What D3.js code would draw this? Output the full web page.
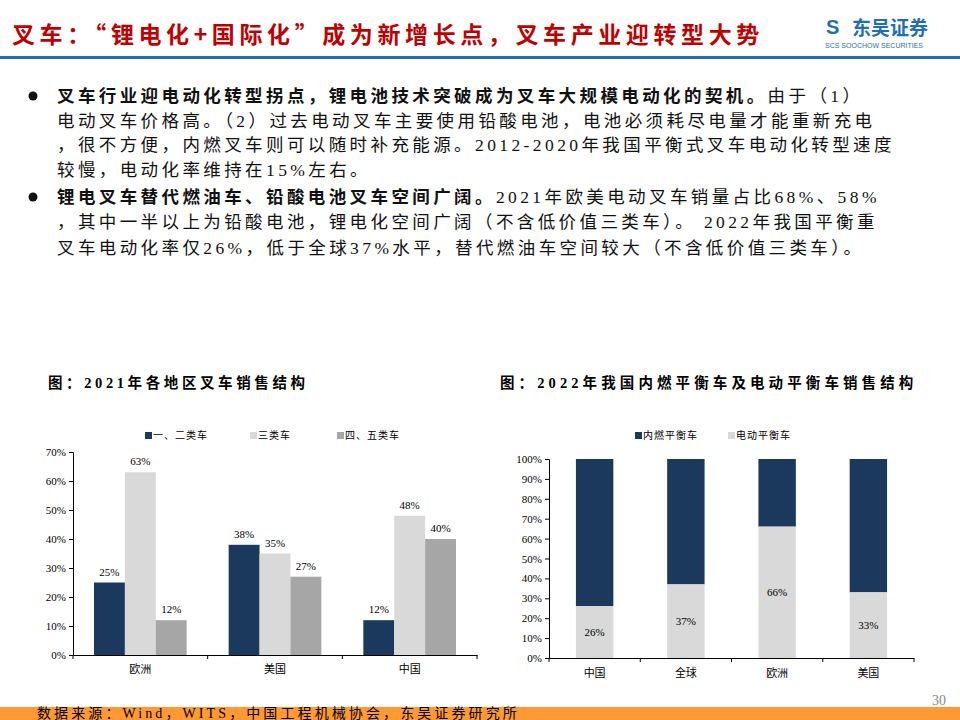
<!DOCTYPE html>
<html><head><meta charset="utf-8">
<script src="https://cdn.jsdelivr.net/npm/d3@7"></script>
<style>body{margin:0;background:#fff}text{font-family:"Liberation Serif","Noto Sans CJK SC",serif}</style>
</head><body>
<svg id="view" width="960" height="720"></svg>
<script>
const regions1 = ["欧洲", "美国", "中国"];
const series1 = ["一、二类车", "三类车", "四、五类车"];
const values1 = [[25, 63, 12], [38, 35, 27], [12, 48, 40]];
const ticks1 = [0, 10, 20, 30, 40, 50, 60, 70];

const regions2 = ["中国", "全球", "欧洲", "美国"];
const series2 = ["内燃平衡车", "电动平衡车"];
const electric2 = [26, 37, 66, 33];
const ticks2 = [0, 10, 20, 30, 40, 50, 60, 70, 80, 90, 100];

const navy = "#1b385d", light = "#d9d9d9", mid = "#a6a6a6";
const svg = d3.select("#view");
const cjk = '"Noto Sans CJK SC",sans-serif';

// HEADER
svg.append("text").attr("x", 12).attr("y", 43).attr("fill", "#c00000")
    .attr("font-size", 23).attr("font-weight", "bold").attr("letter-spacing", 4.6).style("font-family", cjk)
    .text("叉车：“锂电化+国际化”成为新增长点，叉车产业迎转型大势");
svg.append("rect").attr("x", 0).attr("y", 56).attr("width", 960).attr("height", 3).attr("fill", "#1f6fb8");
svg.append("text").attr("x", 852).attr("y", 35).attr("fill", "#1f6fb8").attr("font-size", 19)
    .attr("font-weight", "bold").style("font-family", cjk).text("东吴证券");
svg.append("text").attr("x", 826).attr("y", 34).attr("fill", "#1f6fb8").attr("font-size", 20)
    .attr("font-weight", "bold").style("font-family", "sans-serif").text("S");
svg.append("text").attr("x", 825).attr("y", 48).attr("fill", "#1f6fb8").attr("font-size", 7)
    .style("font-family", "sans-serif").text("SCS   SOOCHOW SECURITIES");

// BULLETS
const lines = [
    [["叉车行业迎电动化转型拐点，锂电池技术突破成为叉车大规模电动化的契机。", true], ["由于（1）", false]],
    [["电动叉车价格高。（2）过去电动叉车主要使用铅酸电池，电池必须耗尽电量才能重新充电", false]],
    [["，很不方便，内燃叉车则可以随时补充能源。2012-2020年我国平衡式叉车电动化转型速度", false]],
    [["较慢，电动化率维持在15%左右。", false]],
    [["锂电叉车替代燃油车、铅酸电池叉车空间广阔。", true], ["2021年欧美电动叉车销量占比68%、58%", false]],
    [["，其中一半以上为铅酸电池，锂电化空间广阔（不含低价值三类车）。 2022年我国平衡重", false]],
    [["叉车电动化率仅26%，低于全球37%水平，替代燃油车空间较大（不含低价值三类车）。", false]]
];
const lineY = [102, 127, 151, 176, 203, 228, 254];
lines.forEach((ln, i) => {
    const t = svg.append("text").attr("x", 57).attr("y", lineY[i]).attr("font-size", 17.5)
        .attr("letter-spacing", 3.4).attr("fill", "#111");
    ln.forEach(s => t.append("tspan").attr("font-weight", s[1] ? "bold" : "normal")
        .style("font-family", s[1] ? cjk : null).text(s[0]));
});
[96, 197].forEach(y => svg.append("circle").attr("cx", 33).attr("cy", y).attr("r", 4.5).attr("fill", "#111"));

// CHART 1
svg.append("text").attr("x", 48).attr("y", 388).attr("font-size", 14.5).attr("font-weight", "bold")
    .attr("letter-spacing", 3.6).text("图：2021年各地区叉车销售结构");
const x1 = d3.scaleBand().domain(regions1).range([73, 477]);
const xs1 = d3.scaleBand().domain(series1).range([21, x1.bandwidth() - 21]).padding(0);
const y1 = d3.scaleLinear().domain([0, 70]).range([655, 452]);
const col1 = d3.scaleOrdinal().domain(series1).range([navy, light, mid]);
const g1 = svg.append("g");
regions1.forEach((r, i) => {
    series1.forEach((s, j) => {
        const v = values1[i][j];
        g1.append("rect").attr("x", x1(r) + xs1(s)).attr("width", xs1.bandwidth())
            .attr("y", y1(v)).attr("height", y1(0) - y1(v)).attr("fill", col1(s));
        g1.append("text").attr("x", x1(r) + xs1(s) + xs1.bandwidth() / 2).attr("y", y1(v) - 7)
            .attr("text-anchor", "middle").attr("font-size", 11).text(v + "%");
    });
});
svg.append("g").attr("transform", "translate(73,0)")
    .call(d3.axisLeft(y1).tickValues(ticks1).tickFormat(d => d + "%").tickSize(4));
svg.append("g").attr("transform", "translate(0,655)")
    .call(d3.axisBottom(x1).tickSize(0).tickPadding(10));
svg.append("g").selectAll("line").data(d3.range(4)).join("line")
    .attr("x1", d => 73 + d * x1.step()).attr("x2", d => 73 + d * x1.step())
    .attr("y1", 655).attr("y2", 659).attr("stroke", "#000");
series1.forEach((s, j) => {
    const lx = [145, 250, 337][j];
    svg.append("rect").attr("x", lx).attr("y", 432).attr("width", 7).attr("height", 7).attr("fill", col1(s));
    svg.append("text").attr("x", lx + 8).attr("y", 439).attr("font-size", 10).attr("letter-spacing", 1)
        .style("font-family", cjk).text(s);
});

// CHART 2
svg.append("text").attr("x", 500).attr("y", 388).attr("font-size", 14.5).attr("font-weight", "bold")
    .attr("letter-spacing", 4.1).text("图：2022年我国内燃平衡车及电动平衡车销售结构");
const x2 = d3.scaleBand().domain(regions2).range([549, 914]).paddingInner(0.59).paddingOuter(0.295);
const y2 = d3.scaleLinear().domain([0, 100]).range([658, 459]);
const g2 = svg.append("g");
regions2.forEach((r, i) => {
    const e = electric2[i];
    g2.append("rect").attr("x", x2(r)).attr("width", x2.bandwidth()).attr("y", y2(100))
        .attr("height", y2(e) - y2(100)).attr("fill", navy);
    g2.append("rect").attr("x", x2(r)).attr("width", x2.bandwidth()).attr("y", y2(e))
        .attr("height", y2(0) - y2(e)).attr("fill", light);
    g2.append("text").attr("x", x2(r) + x2.bandwidth() / 2).attr("y", y2(e / 2) + 4)
        .attr("text-anchor", "middle").attr("font-size", 11).text(e + "%");
});
svg.append("g").attr("transform", "translate(549,0)")
    .call(d3.axisLeft(y2).tickValues(ticks2).tickFormat(d => d + "%").tickSize(4));
svg.append("g").attr("transform", "translate(0,658)")
    .call(d3.axisBottom(x2).tickSize(0).tickPadding(11));
svg.append("g").selectAll("line").data(d3.range(5)).join("line")
    .attr("x1", d => 549 + d * 91.25).attr("x2", d => 549 + d * 91.25)
    .attr("y1", 658).attr("y2", 662).attr("stroke", "#000");
series2.forEach((s, j) => {
    const lx = [635, 728][j];
    svg.append("rect").attr("x", lx).attr("y", 432).attr("width", 7).attr("height", 7).attr("fill", j ? light : navy);
    svg.append("text").attr("x", lx + 8).attr("y", 439).attr("font-size", 10).attr("letter-spacing", 1)
        .style("font-family", cjk).text(s);
});

svg.selectAll(".domain").attr("stroke", "#000");
svg.selectAll(".tick text").attr("font-size", 11).attr("fill", "#000").style("font-family", '"Liberation Serif","Noto Sans CJK SC",serif');
svg.selectAll(".tick line").attr("stroke", "#000");

// FOOTER
svg.append("rect").attr("x", 0).attr("y", 707).attr("width", 960).attr("height", 13).attr("fill", "#ff9933");
svg.append("text").attr("x", 37).attr("y", 718).attr("font-size", 14).attr("letter-spacing", 3.1)
    .text("数据来源：Wind，WITS，中国工程机械协会，东吴证券研究所");
svg.append("text").attr("x", 932).attr("y", 705).attr("font-size", 14).attr("fill", "#888").text("30");
</script>
</body></html>
